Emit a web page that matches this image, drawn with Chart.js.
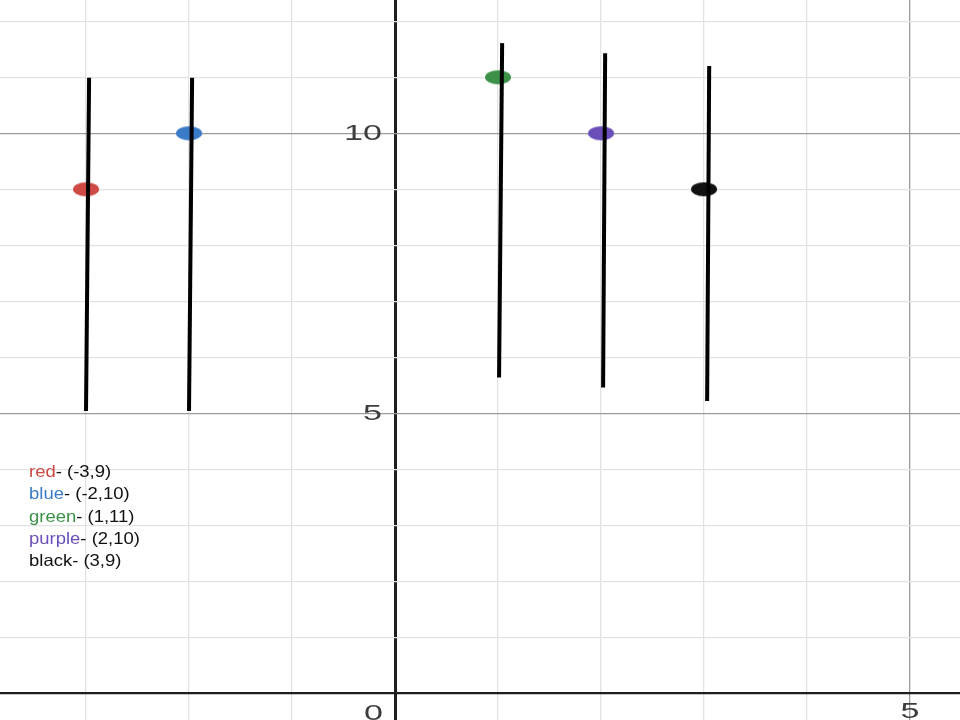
<!DOCTYPE html>
<html lang="en">
<head>
    <meta charset="UTF-8">
    <title>Points and segments</title>
    <script src="https://cdn.jsdelivr.net/npm/chart.js@4.4.0/dist/chart.umd.min.js"></script>
    <style>
        html, body { margin: 0; padding: 0; background: #fff; }
        canvas { display: block; }
    </style>
</head>
<body>
    <canvas id="graph" width="960" height="720"></canvas>

    <script>
        // Points
        const pointNames = ['red', 'blue', 'green', 'purple', 'black'];
        const pointX = [-3, -2, 1, 2, 3];
        const pointY = [9, 10, 11, 10, 9];
        const pointColors = ['#cf4a45', '#3a7bc8', '#3c9149', '#6a4fbb', '#111111'];

        // Vertical black strokes (top end, bottom end)
        const segTopX = [-2.97, -1.97, 1.04, 2.04, 3.05];
        const segTopY = [10.99, 10.99, 11.61, 11.43, 11.2];
        const segBotX = [-3.0, -2.0, 1.01, 2.02, 3.03];
        const segBotY = [5.04, 5.04, 5.64, 5.46, 5.22];

        // Axis labels
        const yLabels = [10, 5];
        const xLabels = [5];

        // Visible window
        const xMin = -3.835, xMax = 5.485;
        const yMin = -0.477, yMax = 12.38;

        // the picture is stretched sideways, so dots are ellipses
        function makeDot(color) {
            const c = document.createElement('canvas');
            c.width = 28; c.height = 16;
            const g = c.getContext('2d');
            g.fillStyle = color;
            g.beginPath();
            g.ellipse(14, 8, 13, 7, 0, 0, Math.PI * 2);
            g.fill();
            return c;
        }

        const datasets = [];
        pointNames.forEach((name, i) => {
            datasets.push({
                label: name + ' stroke',
                data: [{ x: segTopX[i], y: segTopY[i] }, { x: segBotX[i], y: segBotY[i] }],
                showLine: true,
                borderColor: '#000',
                borderWidth: 4,
                pointRadius: 0,
                order: 0
            });
        });
        pointNames.forEach((name, i) => {
            datasets.push({
                label: name,
                data: [{ x: pointX[i], y: pointY[i] }],
                pointStyle: makeDot(pointColors[i]),
                order: 1
            });
        });

        function gridColor(ctx) {
            const v = ctx.tick ? ctx.tick.value : 1;
            if (v === 0) return '#1e1e1e';
            if (v % 5 === 0) return '#9a9a9a';
            return '#e3e3e3';
        }
        function gridWidth(ctx) {
            const v = ctx.tick ? ctx.tick.value : 1;
            if (v === 0) return ctx.scale.axis === 'x' ? 3 : 2.2;
            return 1.3;
        }
        function integerTicks(lo, hi) {
            return scale => {
                const t = [];
                for (let v = Math.ceil(lo); v <= Math.floor(hi); v++) t.push({ value: v });
                scale.ticks = t;
            };
        }

        function stretchedText(g, text, x, y, sx, align) {
            g.save();
            g.translate(x, y);
            g.scale(sx, 1);
            g.textAlign = align;
            g.fillText(text, 0, 0);
            g.restore();
        }

        const overlay = {
            id: 'overlay',
            afterDraw(chart) {
                const g = chart.ctx;
                const xs = chart.scales.x, ys = chart.scales.y;
                const x0 = xs.getPixelForValue(0), y0 = ys.getPixelForValue(0);

                // axis numbers
                g.save();
                g.fillStyle = '#3c3c3c';
                g.font = '22px "Liberation Sans", Arial, sans-serif';
                g.textBaseline = 'middle';
                yLabels.forEach(v => stretchedText(g, String(v), x0 - 13, ys.getPixelForValue(v) + 1, 1.55, 'right'));
                g.textBaseline = 'top';
                stretchedText(g, '0', x0 - 12, y0 + 10, 1.55, 'right');
                xLabels.forEach(v => stretchedText(g, String(v), xs.getPixelForValue(v), y0 + 8, 1.55, 'center'));
                g.restore();

                // legend text
                g.save();
                g.font = '16.5px "Liberation Sans", Arial, sans-serif';
                g.textBaseline = 'alphabetic';
                const sx = 1.12;
                pointNames.forEach((name, i) => {
                    const by = 477 + i * 22.3;
                    g.save();
                    g.translate(29, by);
                    g.scale(sx, 1);
                    g.textAlign = 'left';
                    g.fillStyle = pointColors[i];
                    g.fillText(name, 0, 0);
                    const w = g.measureText(name).width;
                    g.fillStyle = '#111';
                    g.fillText('- (' + pointX[i] + ',' + pointY[i] + ')', w, 0);
                    g.restore();
                });
                g.restore();
            }
        };

        new Chart(document.getElementById('graph'), {
            type: 'scatter',
            data: { datasets },
            options: {
                responsive: false,
                animation: false,
                layout: { padding: 0, autoPadding: false },
                plugins: { legend: { display: false }, tooltip: { enabled: false } },
                scales: {
                    x: {
                        type: 'linear', min: xMin, max: xMax,
                        afterBuildTicks: integerTicks(xMin, xMax),
                        ticks: { display: false },
                        border: { display: false },
                        grid: { drawTicks: false, color: gridColor, lineWidth: gridWidth }
                    },
                    y: {
                        type: 'linear', min: yMin, max: yMax,
                        afterBuildTicks: integerTicks(yMin, yMax),
                        ticks: { display: false },
                        border: { display: false },
                        grid: { drawTicks: false, color: gridColor, lineWidth: gridWidth }
                    }
                }
            },
            plugins: [overlay]
        });
    </script>
</body>
</html>
